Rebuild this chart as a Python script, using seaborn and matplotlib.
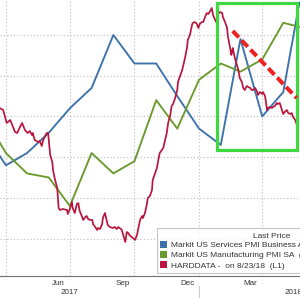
import numpy as np
import pandas as pd
import matplotlib
matplotlib.use("Agg")
import matplotlib.pyplot as plt
import matplotlib.dates as mdates
import matplotlib.transforms as mtransforms
from matplotlib.patches import Patch, Rectangle
import seaborn as sns

sns.set_theme(style="white")
plt.rcParams["font.family"] = ["Liberation Sans", "DejaVu Sans"]

# ---------------- data ----------------
pmi_dates = ["2017-03-01", "2017-04-01", "2017-05-01", "2017-06-01", "2017-07-01",
             "2017-08-01", "2017-09-01", "2017-10-01", "2017-11-01", "2017-12-01",
             "2018-01-01", "2018-02-01", "2018-03-01", "2018-04-01", "2018-05-01",
             "2018-05-24"]
services_pmi = [53.6, 52.8, 53.1, 53.6, 54.2, 54.7, 56.0, 55.3, 55.3, 54.5,
                53.7, 53.3, 55.9, 54.0, 54.6, 56.8]
manufacturing_pmi = [54.2, 53.3, 52.8, 52.7, 52.0, 53.3, 52.8, 53.1, 54.6, 53.9,
                     55.1, 55.5, 55.3, 55.6, 56.5, 56.4]

hard_start = "2017-04-01"
hard_days = [-9, -4, -1, 1, 6, 10, 13, 16, 20, 23,
             27, 31, 34, 37, 38, 41, 46, 48, 51, 53,
             56, 58, 60, 61, 63, 66, 67, 70, 73, 74,
             75, 77, 81, 87, 88, 91, 94, 95, 98, 101,
             103, 105, 108, 110, 113, 115, 117, 120, 123, 124,
             127, 130, 131, 134, 137, 138, 141, 144, 145, 148,
             152, 155, 158, 160, 162, 165, 167, 170, 172, 174,
             177, 181, 184, 187, 188, 191, 194, 195, 198, 201,
             202, 205, 208, 209, 212, 215, 217, 219, 222, 224,
             226, 229, 231, 234, 236, 238, 241, 244, 245, 248,
             251, 252, 255, 258, 259, 262, 265, 266, 269, 272,
             274, 276, 279, 281, 283, 286, 288, 291, 293, 295,
             298, 301, 302, 305, 308, 309, 312, 315, 316, 319,
             321, 322, 323, 326, 329, 331, 333, 336, 338, 340,
             343, 345, 348, 350, 352, 355, 358, 359, 362, 365,
             366, 369, 372, 373, 376, 379, 380, 383, 386, 387,
             390, 393, 395, 397, 400, 402, 405, 407, 409, 412,
             414, 416]
hard_values = [16.8, 16.6, 15.8, 15.3, 15.6, 14.9, 14.4, 14.3, 14.9, 15.3,
               14.6, 14.3, 14.5, 14.1, 14.3, 13.6, 13.4, 13.5, 13.0, 13.6,
               14.0, 14.3, 14.3, 13.6, 12.1, 11.4, 10.6, 9.6, 8.8, 7.8,
               6.8, 6.6, 6.7, 6.6, 6.2, 6.7, 7.4, 6.8, 6.3, 7.2,
               7.3, 6.5, 6.0, 5.6, 5.9, 6.0, 5.7, 5.6, 5.6, 5.2,
               4.9, 4.6, 4.8, 4.7, 5.2, 5.8, 6.3, 5.4, 5.1, 4.9,
               4.8, 4.9, 4.7, 4.9, 4.8, 4.6, 4.1, 3.4, 4.4, 4.3,
               4.0, 3.8, 3.6, 4.2, 4.6, 5.6, 6.0, 5.8, 6.3, 7.3,
               7.8, 8.0, 8.6, 9.6, 10.2, 10.8, 11.6, 12.3, 12.6, 12.8,
               13.4, 14.3, 15.3, 16.1, 17.0, 17.2, 17.8, 18.6, 19.4, 20.0,
               20.6, 20.9, 21.8, 22.9, 23.6, 24.1, 25.1, 25.3, 25.4, 25.2,
               24.8, 25.2, 25.4, 25.4, 25.8, 26.3, 26.2, 26.5, 26.8, 26.1,
               25.6, 25.2, 26.2, 26.4, 26.3, 25.9, 25.4, 24.8, 24.0, 22.9,
               22.1, 22.4, 22.8, 21.8, 21.1, 20.6, 19.8, 19.4, 18.8, 18.6,
               19.0, 18.9, 18.8, 18.6, 18.6, 18.8, 18.4, 18.1, 18.4, 18.2,
               18.4, 18.0, 16.6, 16.8, 16.9, 16.8, 16.9, 17.0, 17.3, 17.2,
               17.3, 16.6, 16.2, 16.4, 16.6, 16.3, 16.2, 16.3, 15.9, 15.6,
               15.2, 14.8]

series_labels = ["Markit US Services PMI Business Activity  (R1)",
                 "Markit US Manufacturing PMI SA  (R2)",
                 "HARDDATA -  on 8/23/18  (L1)"]
month_tick_labels = ["Jun", "Sep", "Dec", "Mar"]
month_tick_dates = ["2017-06-15", "2017-09-15", "2017-12-15", "2018-03-15"]
year_labels = ["2017", "2018"]
year_label_dates = ["2017-07-01", "2018-05-15"]

# annotation (green box / red dashed trend) in HARDDATA units
box_dates = ["2018-01-27", "2018-05-21"]
box_values = [12.6, 27.3]
trend_dates = ["2018-02-18", "2018-05-20"]
trend_values = [24.5, 17.8]

# ---------------- build frames ----------------
pmi = pd.DataFrame({"date": pd.to_datetime(pmi_dates),
                    "services": services_pmi,
                    "manufacturing": manufacturing_pmi})
hard = pd.DataFrame({"date": pd.Timestamp(hard_start) + pd.to_timedelta(hard_days, unit="D"),
                     "value": hard_values})

c_blue = "#3b72ab"
c_green = "#6a9a2e"
c_red = "#b8163e"
grid_c = "#bdbdbd"
txt_c = "#333333"

fig = plt.figure(figsize=(3, 3), dpi=100)
ax_b = fig.add_axes([0, 24 / 300, 1, 276 / 300])
ax_g = ax_b.twinx()
ax_r = ax_b.twinx()

x0 = pd.Timestamp(hard_start) + pd.Timedelta(days=-8.5)
x1 = pd.Timestamp(hard_start) + pd.Timedelta(days=418.8)

sns.lineplot(data=pmi, x="date", y="services", ax=ax_b, color=c_blue, lw=1.35, legend=False)
sns.lineplot(data=pmi, x="date", y="manufacturing", ax=ax_g, color=c_green, lw=1.35, legend=False)
sns.lineplot(data=hard, x="date", y="value", ax=ax_r, color=c_red, lw=1.25, legend=False)

ax_b.set_ylim(50.08, 56.86)
ax_g.set_ylim(50.28, 57.06)
ax_r.set_ylim(0, 27.6)
for a in (ax_b, ax_g, ax_r):
    a.set_xlim(x0, x1)
    a.set_xlabel("")
    a.set_ylabel("")
    for s in a.spines.values():
        s.set_visible(False)
    a.tick_params(axis="y", left=False, right=False, labelleft=False, labelright=False)

# horizontal grid
ax_b.set_yticks(np.arange(51, 57))
ax_b.yaxis.grid(True, linestyle=(0, (1, 2)), color=grid_c, lw=0.8)
ax_b.set_axisbelow(True)
ax_b.patch.set_facecolor("white")

# vertical grid at quarter starts
for q in pd.date_range("2017-04-01", "2018-04-01", freq="QS"):
    ax_b.axvline(q, linestyle=(0, (1, 2)), color=grid_c, lw=0.8, zorder=0)

# x axis
ax_b.spines["bottom"].set_visible(True)
ax_b.spines["bottom"].set_color("#707070")
ax_b.spines["bottom"].set_linewidth(0.8)
ax_b.set_xticks(pd.to_datetime(month_tick_dates))
ax_b.set_xticklabels(month_tick_labels)
ax_b.xaxis.set_minor_locator(mdates.MonthLocator())
ax_b.tick_params(axis="x", which="major", length=0, pad=2.6, labelsize=5.8, labelcolor=txt_c)
ax_b.tick_params(axis="x", which="minor", length=2.5, width=0.6, color="#707070", direction="out")
ax_b.xaxis.grid(False)

trans = mtransforms.blended_transform_factory(ax_b.transData, fig.transFigure)
for lab, d in zip(year_labels, pd.to_datetime(year_label_dates)):
    ax_b.text(d, 1 - 293 / 300, lab, transform=trans, ha="center", va="center",
              fontsize=5.8, color=txt_c, clip_on=False)
ax_b.plot([pd.Timestamp("2018-01-01")] * 2, [1 - 286 / 300, 1 - 297 / 300],
          transform=trans, color="#cccccc", lw=0.8, clip_on=False)

# annotations: green box and red dashed trend line
bd = mdates.date2num(pd.to_datetime(box_dates))
ax_r.add_patch(Rectangle((bd[0], box_values[0]), bd[1] - bd[0], box_values[1] - box_values[0],
                         fill=False, edgecolor="#3fd83f", lw=2.3, zorder=5))
ax_r.plot(pd.to_datetime(trend_dates), trend_values, color="#ee2020", lw=2.9,
          dashes=(2.2, 1.0), solid_capstyle="butt", zorder=6)

# legend
handles = [Patch(facecolor=c_blue, edgecolor="none"),
           Patch(facecolor=c_green, edgecolor="none"),
           Patch(facecolor=c_red, edgecolor="none")]
leg = ax_r.legend(handles, series_labels, loc="lower left",
                  bbox_to_anchor=(157 / 300, 27 / 300), bbox_transform=fig.transFigure,
                  fontsize=6.0, title=" ", title_fontsize=6.0, frameon=True, fancybox=False,
                  borderpad=0.4, labelspacing=0.25, handlelength=0.85, handleheight=0.85,
                  handletextpad=0.45, borderaxespad=0)
leg.get_frame().set_edgecolor("#b5b5b5")
leg.get_frame().set_linewidth(0.8)
leg.set_zorder(10)
for t in leg.get_texts():
    t.set_color(txt_c)
fig.text(272 / 300, 1 - 237 / 300, "Last Price", ha="center", va="center",
         fontsize=6.0, color=txt_c, zorder=11)

fig.savefig("out.png", dpi=100)
